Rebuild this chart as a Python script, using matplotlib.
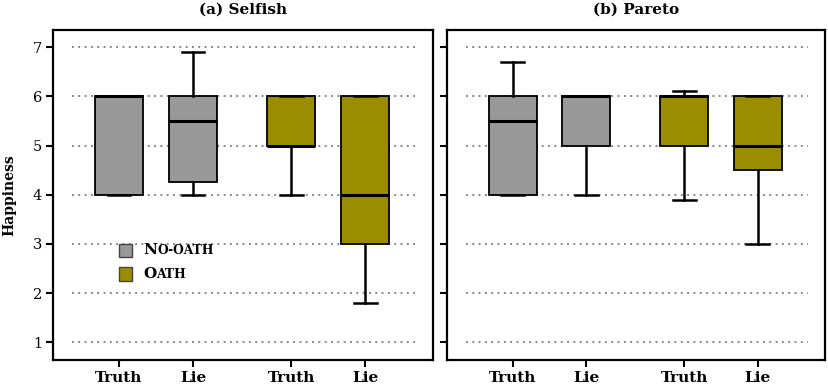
import matplotlib
matplotlib.use("Agg")
import matplotlib.pyplot as plt
from matplotlib.patches import Rectangle
from matplotlib.offsetbox import (AnchoredOffsetbox, DrawingArea, HPacker,
                                  TextArea, VPacker)

# data
panels = ["(a) Selfish", "(b) Pareto"]
conditions = ["Truth", "Lie", "Truth", "Lie"]
groups = ["No-oath", "No-oath", "Oath", "Oath"]

# per panel: whislo, q1, median, q3, whishi
selfish_lo = [4.0, 4.0, 4.0, 1.8]
selfish_q1 = [4.0, 4.25, 5.0, 3.0]
selfish_med = [6.0, 5.5, 5.0, 4.0]
selfish_q3 = [6.0, 6.0, 6.0, 6.0]
selfish_hi = [6.0, 6.9, 6.0, 6.0]

pareto_lo = [4.0, 4.0, 3.9, 3.0]
pareto_q1 = [4.0, 5.0, 5.0, 4.5]
pareto_med = [5.5, 6.0, 6.0, 5.0]
pareto_q3 = [6.0, 6.0, 6.0, 6.0]
pareto_hi = [6.7, 6.0, 6.1, 6.0]

yticks = [1, 2, 3, 4, 5, 6, 7]

GRAY = "#999999"
OLIVE = "#9a8e00"
colors = {"No-oath": GRAY, "Oath": OLIVE}
positions = [1, 2, 3.33, 4.33]

BOLD = dict(family="DejaVu Serif", fontweight="bold")


def make_stats(lo, q1, med, q3, hi):
    return [dict(whislo=a, q1=b, med=c, q3=d, whishi=e, fliers=[])
            for a, b, c, d, e in zip(lo, q1, med, q3, hi)]


all_stats = [
    make_stats(selfish_lo, selfish_q1, selfish_med, selfish_q3, selfish_hi),
    make_stats(pareto_lo, pareto_q1, pareto_med, pareto_q3, pareto_hi),
]

fig = plt.figure(figsize=(8.29, 3.86), dpi=100)
W, H = 829, 386
rects = [(53, 30, 380, 330), (447, 30, 378, 330)]

for i, (x0, y0, w, h) in enumerate(rects):
    ax = fig.add_axes([x0 / W, 1 - (y0 + h) / H, w / W, h / H])
    for y in yticks:
        ax.axhline(y, xmin=0.05, xmax=0.955, color="#777777", lw=1.3,
                   ls=(0, (1, 2.5)), zorder=0)
    bp = ax.bxp(all_stats[i], positions=positions, widths=0.65,
                patch_artist=True, showfliers=False,
                boxprops=dict(edgecolor="black", linewidth=1.3),
                medianprops=dict(color="black", linewidth=2.2),
                whiskerprops=dict(color="black", linewidth=1.8),
                capprops=dict(color="black", linewidth=1.8),
                capwidths=0.31)
    for patch, g in zip(bp["boxes"], groups):
        patch.set_facecolor(colors[g])
        patch.set_zorder(2)
    ax.set_xlim(0.108, 5.243)
    ax.set_ylim(0.64, 7.35)
    ax.set_xticks(positions)
    ax.set_xticklabels(conditions, fontsize=11, **BOLD)
    ax.set_yticks(yticks)
    if i == 0:
        ax.set_yticklabels([str(t) for t in yticks], family="DejaVu Serif",
                           fontsize=10.5)
        ax.set_ylabel("Happiness", fontsize=10, labelpad=12, **BOLD)
    else:
        ax.set_yticklabels([])
    ax.tick_params(axis="both", direction="out", length=5, width=1.5,
                   pad=3)
    for sp in ax.spines.values():
        sp.set_linewidth(1.6)
    ax.set_title(panels[i], fontsize=11, pad=12, **BOLD)

    if i == 0:
        rows = []
        for label, col in [("No-oath", GRAY), ("Oath", OLIVE)]:
            da = DrawingArea(9.4, 9.4, 0, 0)
            da.add_artist(Rectangle((0, 0), 9.4, 9.4, facecolor=col,
                                    edgecolor="#444444", lw=1.0))
            head, tail = label[0], label[1:].upper()
            t1 = TextArea(head, textprops=dict(fontsize=11, **BOLD))
            t2 = TextArea(tail, textprops=dict(fontsize=8.8, **BOLD))
            txt = HPacker(children=[t1, t2], pad=0, sep=0, align="baseline")
            rows.append(HPacker(children=[da, txt], pad=0, sep=8,
                                align="center"))
        box = VPacker(children=rows, pad=0, sep=7, align="left")
        anchored = AnchoredOffsetbox(loc="lower left", child=box, pad=0,
                                     frameon=False,
                                     bbox_to_anchor=(119 / W, 1 - 281 / H),
                                     bbox_transform=fig.transFigure,
                                     borderpad=0)
        ax.add_artist(anchored)

fig.savefig("out.png", dpi=100)
